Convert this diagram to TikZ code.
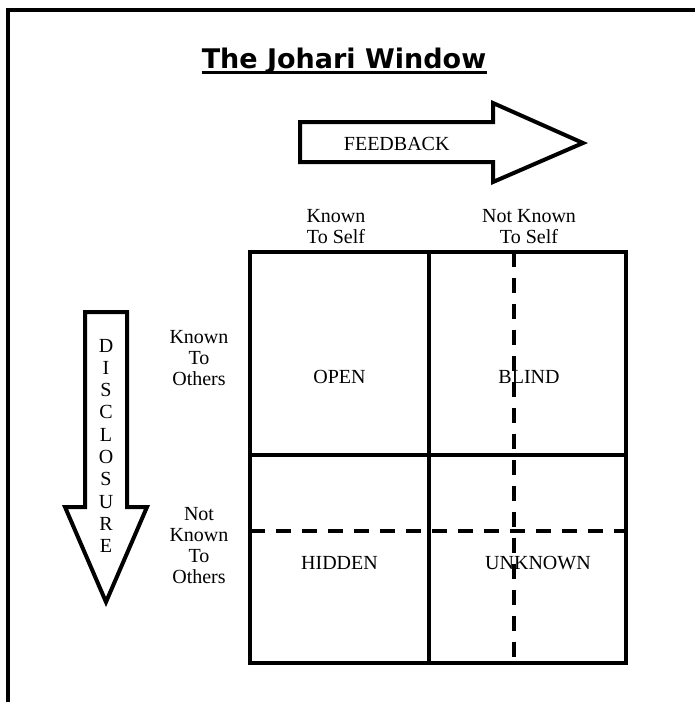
\documentclass[tikz,border=0pt]{standalone}
\usepackage{fontspec}
\setmainfont{Liberation Serif}
\newfontfamily\titlefont{DejaVu Sans}
\begin{document}
\begin{tikzpicture}[x=1pt,y=-1pt,
  lbl/.style={font=\fontsize{20}{21}\selectfont, align=center, inner sep=0pt, anchor=base},
  cell/.style={font=\fontsize{20}{21}\selectfont, inner sep=0pt, anchor=base},
  frame/.style={line width=4.5pt},
  grid/.style={line width=4pt},
  dashgrid/.style={line width=4pt, dash pattern=on 15pt off 11pt},
  bigarrow/.style={line width=4pt, line join=miter, fill=white}]
\useasboundingbox (0,0) rectangle (695,702);
% outer frame
\coordinate (ftr) at (695,10);
\coordinate (ftl) at (8,10);
\coordinate (fbl) at (8,702);
\draw[frame] (ftr) -- (ftl) -- (fbl);
% title
\node[inner sep=0pt, anchor=base, font=\titlefont\bfseries\fontsize{27}{30}\selectfont] (title) at (344,68.3) {The Johari Window};
\draw[line width=2.5pt] (201.7,72.7) -- (486.7,72.7);
% feedback arrow
\draw[bigarrow] (300,122) -- (493,122) -- (493,103) -- (583,143) -- (493,182) -- (493,162) -- (300,162) -- cycle;
\node[cell] (fb) at (396.7,150) {FEEDBACK};
% disclosure arrow
\draw[bigarrow] (85,312) -- (127,312) -- (127,507) -- (147,507) -- (106,602) -- (65,507) -- (85,507) -- cycle;
\node[font=\fontsize{20}{22.3}\selectfont, align=center, inner sep=0pt, anchor=base] (disc) at (106,552.7) {D\\I\\S\\C\\L\\O\\S\\U\\R\\E};
% column labels
\node[lbl] (kts) at (336,243.3) {Known\\To Self};
\node[lbl] (nkts) at (529,243.3) {Not Known\\To Self};
% row labels
\node[lbl] (kto) at (199,385) {Known\\To\\Others};
\node[lbl] (nkto) at (199,583) {Not\\Known\\To\\Others};
% grid
\coordinate (gtl) at (250,251.5);
\coordinate (gbr) at (626,662.5);
\draw[dashgrid] (514,251.5) -- (514,662.5);
\draw[dashgrid] (250,531) -- (626,531);
\draw[grid] (gtl) rectangle (gbr);
\draw[grid] (429,251.5) -- (429,662.5);
\draw[grid] (250,455) -- (626,455);
% cell labels
\node[cell] (open) at (339.5,383) {OPEN};
\node[cell] (blind) at (529,383) {BLIND};
\node[cell] (hidden) at (339.5,569) {HIDDEN};
\node[cell] (unknown) at (538,569) {UNKNOWN};
\end{tikzpicture}
\end{document}
